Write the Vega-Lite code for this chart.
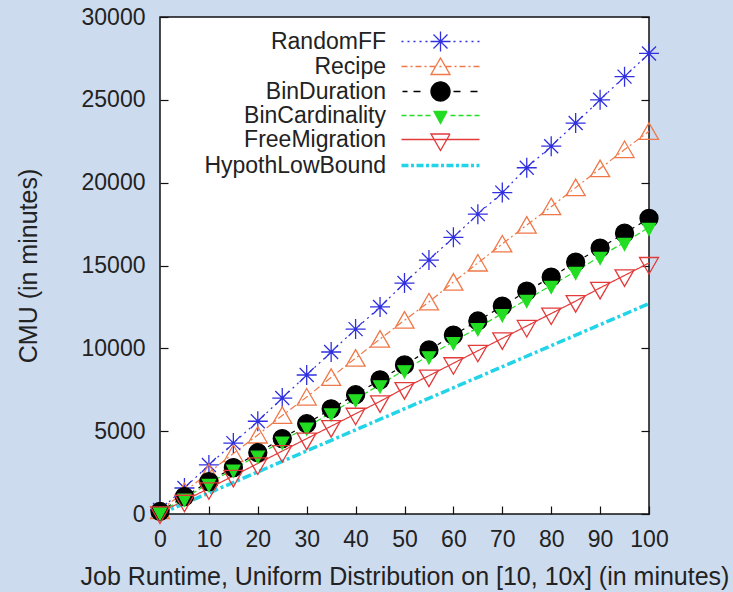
{
  "$schema": "https://vega.github.io/schema/vega-lite/v6.json",
  "width": 489,
  "height": 497,
  "autosize": {"type": "none"},
  "padding": {"left": 160, "top": 17, "right": 84, "bottom": 78},
  "background": "#cddbef",
  "config": {
    "view": {"fill": "white", "stroke": "#111", "strokeWidth": 1.5},
    "font": "Liberation Sans",
    "axis": {
      "domain": false, "grid": false, "tickSize": -8, "tickColor": "#111", "tickWidth": 1.2,
      "labelFlush": false, "labelOverlap": false,
      "labelFont": "Liberation Sans", "labelFontSize": 23, "labelColor": "#222",
      "titleFont": "Liberation Sans", "titleFontSize": 25, "titleFontWeight": "normal", "titleColor": "#222"
    },
    "axisX": {"labelPadding": 22, "titlePadding": 13},
    "axisY": {"labelPadding": 23, "titlePadding": 40}
  },
  "data": {"values": [
    {"s":"RandomFF","x":0,"y":250},{"s":"RandomFF","x":5,"y":1570},{"s":"RandomFF","x":10,"y":2960},{"s":"RandomFF","x":15,"y":4280},{"s":"RandomFF","x":20,"y":5600},{"s":"RandomFF","x":25,"y":7000},{"s":"RandomFF","x":30,"y":8390},{"s":"RandomFF","x":35,"y":9780},{"s":"RandomFF","x":40,"y":11160},{"s":"RandomFF","x":45,"y":12500},{"s":"RandomFF","x":50,"y":13940},{"s":"RandomFF","x":55,"y":15330},{"s":"RandomFF","x":60,"y":16700},{"s":"RandomFF","x":65,"y":18100},{"s":"RandomFF","x":70,"y":19400},{"s":"RandomFF","x":75,"y":20900},{"s":"RandomFF","x":80,"y":22200},{"s":"RandomFF","x":85,"y":23600},{"s":"RandomFF","x":90,"y":25000},{"s":"RandomFF","x":95,"y":26400},{"s":"RandomFF","x":100,"y":27800},
    {"s":"Recipe","x":0,"y":200},{"s":"Recipe","x":5,"y":1350},{"s":"Recipe","x":10,"y":2500},{"s":"Recipe","x":15,"y":3650},{"s":"Recipe","x":20,"y":4770},{"s":"Recipe","x":25,"y":5950},{"s":"Recipe","x":30,"y":7060},{"s":"Recipe","x":35,"y":8250},{"s":"Recipe","x":40,"y":9410},{"s":"Recipe","x":45,"y":10560},{"s":"Recipe","x":50,"y":11700},{"s":"Recipe","x":55,"y":12800},{"s":"Recipe","x":60,"y":14000},{"s":"Recipe","x":65,"y":15150},{"s":"Recipe","x":70,"y":16300},{"s":"Recipe","x":75,"y":17440},{"s":"Recipe","x":80,"y":18550},{"s":"Recipe","x":85,"y":19700},{"s":"Recipe","x":90,"y":20850},{"s":"Recipe","x":95,"y":22000},{"s":"Recipe","x":100,"y":23100},
    {"s":"BinDuration","x":0,"y":150},{"s":"BinDuration","x":5,"y":1050},{"s":"BinDuration","x":10,"y":1950},{"s":"BinDuration","x":15,"y":2800},{"s":"BinDuration","x":20,"y":3700},{"s":"BinDuration","x":25,"y":4550},{"s":"BinDuration","x":30,"y":5450},{"s":"BinDuration","x":35,"y":6350},{"s":"BinDuration","x":40,"y":7200},{"s":"BinDuration","x":45,"y":8100},{"s":"BinDuration","x":50,"y":9000},{"s":"BinDuration","x":55,"y":9900},{"s":"BinDuration","x":60,"y":10800},{"s":"BinDuration","x":65,"y":11650},{"s":"BinDuration","x":70,"y":12550},{"s":"BinDuration","x":75,"y":13450},{"s":"BinDuration","x":80,"y":14300},{"s":"BinDuration","x":85,"y":15200},{"s":"BinDuration","x":90,"y":16050},{"s":"BinDuration","x":95,"y":16950},{"s":"BinDuration","x":100,"y":17850},
    {"s":"BinCardinality","x":0,"y":120},{"s":"BinCardinality","x":5,"y":950},{"s":"BinCardinality","x":10,"y":1850},{"s":"BinCardinality","x":15,"y":2700},{"s":"BinCardinality","x":20,"y":3550},{"s":"BinCardinality","x":25,"y":4400},{"s":"BinCardinality","x":30,"y":5250},{"s":"BinCardinality","x":35,"y":6100},{"s":"BinCardinality","x":40,"y":6950},{"s":"BinCardinality","x":45,"y":7800},{"s":"BinCardinality","x":50,"y":8700},{"s":"BinCardinality","x":55,"y":9550},{"s":"BinCardinality","x":60,"y":10400},{"s":"BinCardinality","x":65,"y":11250},{"s":"BinCardinality","x":70,"y":12100},{"s":"BinCardinality","x":75,"y":12950},{"s":"BinCardinality","x":80,"y":13800},{"s":"BinCardinality","x":85,"y":14650},{"s":"BinCardinality","x":90,"y":15550},{"s":"BinCardinality","x":95,"y":16400},{"s":"BinCardinality","x":100,"y":17300},
    {"s":"FreeMigration","x":0,"y":100},{"s":"FreeMigration","x":5,"y":800},{"s":"FreeMigration","x":10,"y":1550},{"s":"FreeMigration","x":15,"y":2300},{"s":"FreeMigration","x":20,"y":3050},{"s":"FreeMigration","x":25,"y":3800},{"s":"FreeMigration","x":30,"y":4550},{"s":"FreeMigration","x":35,"y":5300},{"s":"FreeMigration","x":40,"y":6050},{"s":"FreeMigration","x":45,"y":6800},{"s":"FreeMigration","x":50,"y":7600},{"s":"FreeMigration","x":55,"y":8350},{"s":"FreeMigration","x":60,"y":9100},{"s":"FreeMigration","x":65,"y":9850},{"s":"FreeMigration","x":70,"y":10600},{"s":"FreeMigration","x":75,"y":11350},{"s":"FreeMigration","x":80,"y":12100},{"s":"FreeMigration","x":85,"y":12850},{"s":"FreeMigration","x":90,"y":13650},{"s":"FreeMigration","x":95,"y":14400},{"s":"FreeMigration","x":100,"y":15150},
    {"s":"HypothLowBound","x":0,"y":0},{"s":"HypothLowBound","x":100,"y":12700}
  ]},
  "layer": [
    {
      "mark": {"type": "line", "strokeCap": "butt"},
      "encoding": {
        "x": {"field": "x", "type": "quantitative", "scale": {"domain": [0, 100], "nice": false},
              "axis": {"title": "Job Runtime, Uniform Distribution on [10, 10x] (in minutes)", "values": [0,10,20,30,40,50,60,70,80,90,100]}},
        "y": {"field": "y", "type": "quantitative", "scale": {"domain": [0, 30000], "nice": false},
              "axis": {"orient": "left", "title": "CMU (in minutes)", "values": [0,5000,10000,15000,20000,25000,30000], "format": "d"}},
        "color": {"field": "s", "type": "nominal",
          "scale": {"domain": ["RandomFF","Recipe","BinDuration","BinCardinality","FreeMigration","HypothLowBound"],
                    "range": ["#3030e0","#f07848","#000000","#22dd22","#e33a3a","#22d4e8"]},
          "legend": {
            "title": null, "orient": "none", "legendX": 269, "legendY": 13, "padding": 0,
            "labelFont": "Liberation Sans", "labelFontSize": 23, "labelColor": "#222",
            "labelAlign": "right", "labelOffset": -66, "labelLimit": 400,
            "symbolSize": 400, "symbolStrokeWidth": 1.3, "rowPadding": 0,
            "encode": {"symbols": {"update": {
              "shape": {"signal": "datum.value==='RandomFF'?'M-1,0L1,0M0,-1L0,1M-0.7,-0.7L0.7,0.7M-0.7,0.7L0.7,-0.7M-3.9,0L-3.7,0M-3.3,0L-3.1,0M-2.7,0L-2.5,0M-2.1,0L-1.9,0M-1.5,0L-1.3,0M1.3,0L1.5,0M1.9,0L2.1,0M2.5,0L2.7,0M3.1,0L3.3,0M3.7,0L3.9,0':datum.value==='Recipe'?'M0,-0.85L0.95,0.8L-0.95,0.8ZM-3.9,0L-3.3,0M-3.0,0L-2.8,0M-2.5,0L-1.9,0M-1.6,0L-1.4,0M-1.1,0L-0.5,0M-0.1,0L0.1,0M0.5,0L1.1,0M1.4,0L1.6,0M1.9,0L2.5,0M2.8,0L3.0,0M3.3,0L3.9,0':datum.value==='BinDuration'?'M0.95,0A0.95,0.95,0,1,1,-0.95,0A0.95,0.95,0,1,1,0.95,0ZM-3.8,0L-3.3,0M-2.7,0L-2.0,0M1.3,0L2.0,0M3.0,0L3.7,0':datum.value==='BinCardinality'?'M-0.65,-0.4L0.65,-0.4L0,0.8ZM-3.9,0L-3.4,0M-3.1,0L-2.6,0M-2.3,0L-1.8,0M-1.5,0L-1.0,0M1.0,0L1.5,0M1.8,0L2.3,0M2.6,0L3.1,0M3.4,0L3.9,0':datum.value==='FreeMigration'?'M-0.95,-0.55L0.95,-0.55L0,1.1ZM-3.9,0L3.9,0':'M-3.9,0L-3.2,0M-2.95,0L-2.65,0M-2.4,0L-1.7,0M-1.45,0L-1.15,0M-0.9,0L-0.2,0M0.05,0L0.35,0M0.6,0L1.3,0M1.55,0L1.85,0M2.1,0L2.8,0M3.05,0L3.35,0M3.6,0L3.9,0'"},
              "fill": {"signal": "datum.value==='BinDuration'?'#000000':datum.value==='BinCardinality'?'#22dd22':'transparent'"},
              "strokeWidth": {"signal": "datum.value==='HypothLowBound'?3.5:1.3"},
              "strokeDash": {"value": [1, 0]},
              "opacity": {"value": 1}
            }}}
          }
        },
        "strokeDash": {"field": "s", "type": "nominal",
          "scale": {"domain": ["HypothLowBound","FreeMigration","BinCardinality","BinDuration","Recipe","RandomFF"],
                    "range": [[9,3,3,3],[1,0],[6,3],[4,5],[7,3,2,3],[2,4]]},
          "legend": null},
        "strokeWidth": {"condition": {"test": "datum.s === 'HypothLowBound'", "value": 3.5}, "value": 1.2}
      }
    },
    {
      "transform": [{"filter": "datum.s !== 'HypothLowBound'"}],
      "mark": {"type": "point", "size": 400, "strokeWidth": 1.3, "opacity": 1},
      "encoding": {
        "x": {"field": "x", "type": "quantitative", "scale": {"domain": [0, 100], "nice": false},
              "axis": {"title": "Job Runtime, Uniform Distribution on [10, 10x] (in minutes)", "values": [0,10,20,30,40,50,60,70,80,90,100]}},
        "y": {"field": "y", "type": "quantitative", "scale": {"domain": [0, 30000], "nice": false},
              "axis": {"orient": "right", "labels": false, "title": null, "values": [0,5000,10000,15000,20000,25000,30000]}},
        "shape": {"field": "s", "type": "nominal",
          "scale": {"domain": ["RandomFF","Recipe","BinDuration","BinCardinality","FreeMigration"],
                    "range": ["M-1,0L1,0M0,-1L0,1M-0.7,-0.7L0.7,0.7M-0.7,0.7L0.7,-0.7","M0,-0.85L0.95,0.8L-0.95,0.8Z","M0.9,0A0.9,0.9,0,1,1,-0.9,0A0.9,0.9,0,1,1,0.9,0Z","M-0.65,-0.4L0.65,-0.4L0,0.8Z","M-0.95,-0.55L0.95,-0.55L0,1.1Z"]},
          "legend": null},
        "stroke": {"field": "s", "type": "nominal",
          "scale": {"domain": ["RandomFF","Recipe","BinDuration","BinCardinality","FreeMigration"],
                    "range": ["#3030e0","#f07848","#000000","#22dd22","#e33a3a"]},
          "legend": null},
        "fill": {"field": "s", "type": "nominal",
          "scale": {"domain": ["RandomFF","Recipe","BinDuration","BinCardinality","FreeMigration"],
                    "range": ["transparent","transparent","#000000","#22dd22","transparent"]},
          "legend": null}
      }
    }
  ],
  "resolve": {"axis": {"y": "independent"}}
}
